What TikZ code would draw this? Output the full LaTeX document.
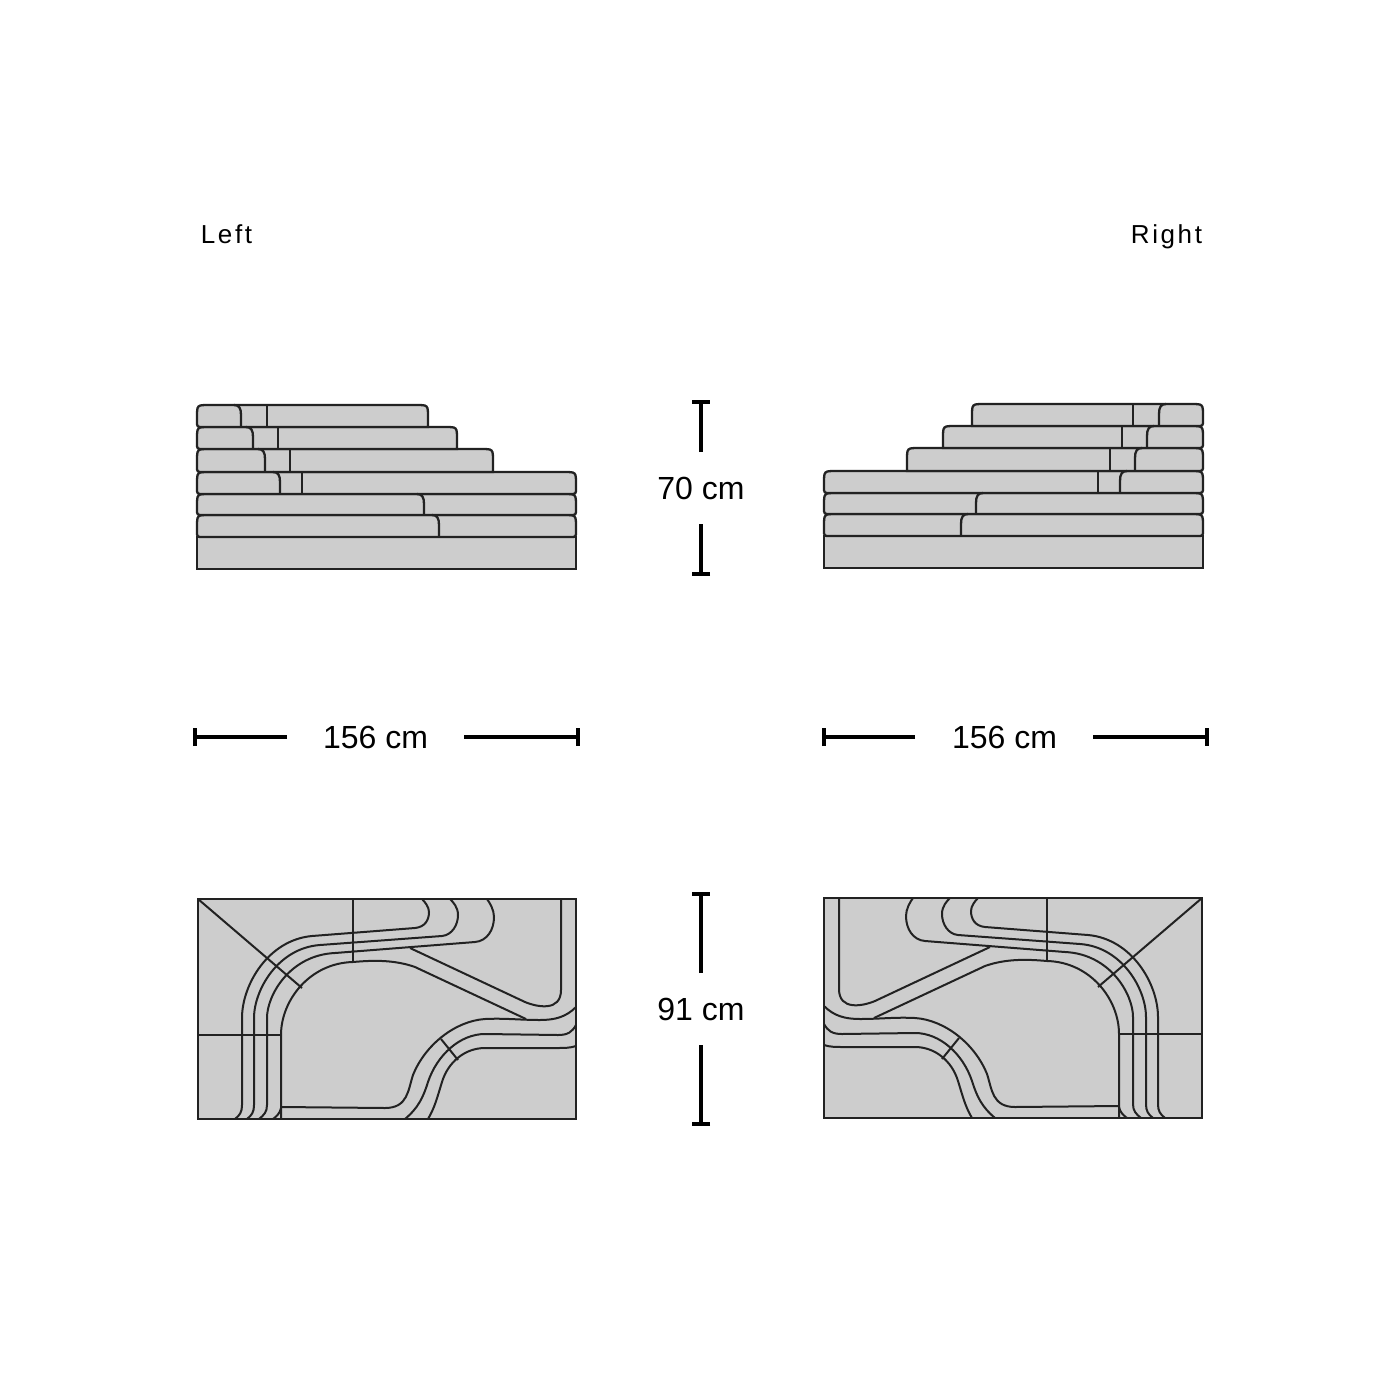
\documentclass[tikz,border=0pt]{standalone}
\usepackage{fontspec}
\usepackage{tikz}
\usetikzlibrary{arrows.meta}
\setmainfont{Liberation Sans}
\newfontfamily\spacedfont[LetterSpace=10]{Liberation Sans}
\definecolor{slabgray}{HTML}{CDCDCD}
\definecolor{inkgray}{HTML}{222222}

\tikzset{
  slab/.style={draw=inkgray, fill=slabgray, line width=2.3pt},
  seam/.style={draw=inkgray, line width=2.3pt},
  planline/.style={draw=inkgray, line width=2pt},
  dimline/.style={draw=black, line width=3.5pt, -{Bar[width=18pt,line width=4pt]}},
  dimlabel/.style={inner sep=0pt, font=\fontsize{32}{32}\selectfont},
  sidelabel/.style={inner sep=0pt, anchor=base, font=\fontsize{26}{26}\spacedfont}
}

% side view, drawn for the left unit
\newcommand{\elevationview}{
  \draw[slab] (197,537) rectangle (576,569);
  \foreach \rowtop/\rowbot/\rowend/\rowlow in
    {515/537/576/6, 494/515/576/6, 472/494/576/6, 449/472/493/0, 427/449/457/0, 405/427/428/0}
    \draw[slab] (203,\rowbot) -- (\rowend-\rowlow,\rowbot)
      .. controls (\rowend,\rowbot) .. (\rowend,\rowbot-\rowlow) -- (\rowend,\rowtop+12)
      .. controls (\rowend,\rowtop) .. (\rowend-12,\rowtop) -- (209,\rowtop)
      .. controls (197,\rowtop) .. (197,\rowtop+12) -- (197,\rowbot-6)
      .. controls (197,\rowbot) .. (203,\rowbot) -- cycle;
  \foreach \rowtop/\rowbot/\seamx in
    {405/427/241, 427/449/253, 449/472/265, 472/494/280, 494/515/424, 515/537/439}
    \draw[seam] (\seamx,\rowbot) -- (\seamx,\rowtop+10)
      .. controls (\seamx,\rowtop+3) and (\seamx-2,\rowtop) .. (\seamx-7,\rowtop);
  \foreach \rowtop/\rowbot/\seamx in
    {405/427/267, 427/449/278, 449/472/290, 472/494/302}
    \draw[seam] (\seamx,\rowbot) -- (\seamx,\rowtop);
}

% top view, drawn for the left unit
\newcommand{\planview}{
  \draw[slab, line width=2pt] (198,899) rectangle (576,1119);
  \draw[planline] (198,899) -- (302,988);
  \draw[planline] (353,899) -- (353,962);
  \draw[planline] (198,1035) -- (281,1035);
  % the four bands round the corner
  \draw[planline] (235,1119) .. controls (240,1115) and (242,1112) .. (242,1105) -- (242,1018)
    .. controls (242,985) and (268,940) .. (312,936) -- (415,928)
    .. controls (425,927) and (429,920) .. (429,912) .. controls (429,907) and (425,902) .. (422,899);
  \draw[planline] (247,1119) .. controls (252,1115) and (254,1112) .. (254,1105) -- (254,1018)
    .. controls (254,990) and (278,948) .. (320,945) -- (442,936)
    .. controls (452,935) and (458,925) .. (458,915) .. controls (458,907) and (453,902) .. (450,899);
  \draw[planline] (259,1119) .. controls (264,1115) and (267,1112) .. (267,1105) -- (267,1018)
    .. controls (267,995) and (290,955) .. (335,953) -- (475,942)
    .. controls (487,941) and (494,930) .. (494,917) .. controls (494,910) and (490,903) .. (487,899);
  \draw[planline] (281,1119) -- (281,1035) .. controls (281,1000) and (310,963) .. (353,962)
    .. controls (375,960) and (395,960) .. (415,967) -- (526,1019);
  \draw[planline] (273,1119) .. controls (277,1116) and (280,1113) .. (281,1108);
  % back cushion
  \draw[planline] (410,948) -- (525,1002) .. controls (537,1007) and (561,1012) .. (561,990) -- (561,899);
  % the three bands to the right edge
  \draw[planline] (576,1007) .. controls (566,1017) and (555,1020) .. (540,1020)
    .. controls (520,1020) and (505,1018) .. (485,1019)
    .. controls (455,1021) and (425,1045) .. (413,1075)
    .. controls (408,1090) and (408,1108) .. (385,1108) -- (281,1107);
  \draw[planline] (576,1025) .. controls (572,1032) and (568,1035) .. (558,1035) -- (485,1034)
    .. controls (460,1034) and (437,1055) .. (428,1082)
    .. controls (423,1098) and (418,1108) .. (405,1119);
  \draw[planline] (576,1046) .. controls (570,1048) and (565,1048) .. (555,1048) -- (485,1048)
    .. controls (465,1048) and (448,1062) .. (442,1082)
    .. controls (437,1098) and (435,1107) .. (428,1119);
  \draw[planline] (441,1039) -- (458,1060);
}

\begin{document}
\begin{tikzpicture}[x=1pt, y=-1pt]
\useasboundingbox (0,0) rectangle (1400,1400);

\node[sidelabel] (leftlabel) at (226.5,243) {Left};
\node[sidelabel] (rightlabel) at (1166.5,243) {Right};

\elevationview
\planview
\begin{scope}[shift={(1400,-1)}, xscale=-1]
  \elevationview
  \planview
\end{scope}

% height of the side view
\node[dimlabel] (height) at (701,488) {70 cm};
\coordinate (heighttop) at (701,452);
\coordinate (heighttopcap) at (701,400);
\coordinate (heightbot) at (701,524);
\coordinate (heightbotcap) at (701,576);
\draw[dimline] (heighttop) -- (heighttopcap);
\draw[dimline] (heightbot) -- (heightbotcap);

% width, both units
\foreach \side/\labelx/\capa/\enda/\endb/\capb in
  {l/375.5/193/287/464/580, r/1004.5/822/915/1093/1209}{
  \node[dimlabel] (width\side) at (\labelx,737) {156 cm};
  \coordinate (width\side a) at (\enda,737);
  \coordinate (width\side capa) at (\capa,737);
  \coordinate (width\side b) at (\endb,737);
  \coordinate (width\side capb) at (\capb,737);
  \draw[dimline] (width\side a) -- (width\side capa);
  \draw[dimline] (width\side b) -- (width\side capb);
}

% depth of the top view
\node[dimlabel] (depth) at (701,1009) {91 cm};
\coordinate (depthtop) at (701,973);
\coordinate (depthtopcap) at (701,892);
\coordinate (depthbot) at (701,1045);
\coordinate (depthbotcap) at (701,1126);
\draw[dimline] (depthtop) -- (depthtopcap);
\draw[dimline] (depthbot) -- (depthbotcap);
\end{tikzpicture}
\end{document}
